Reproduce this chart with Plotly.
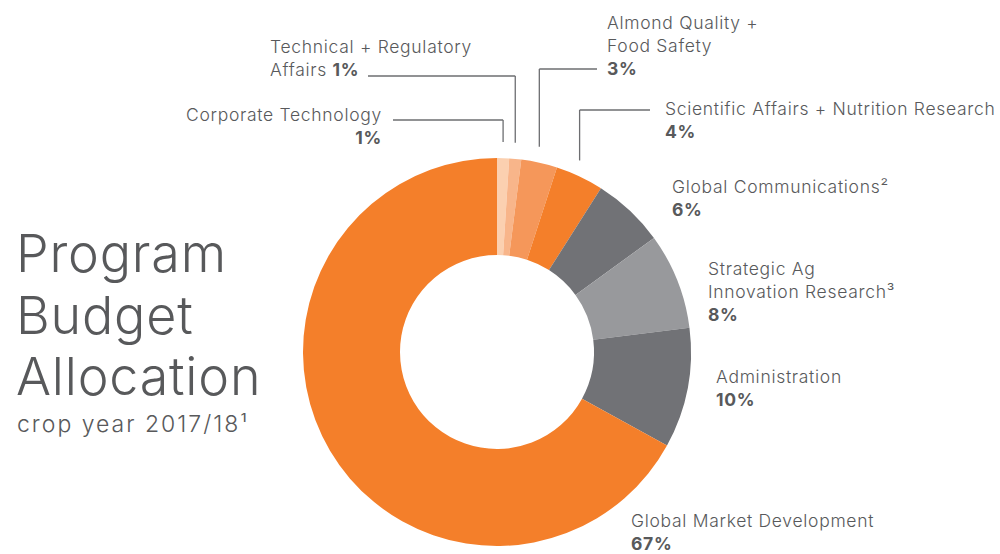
import math
import plotly.graph_objects as go

# --- Data ---
categories = [
    "Corporate Technology",
    "Technical + Regulatory Affairs",
    "Almond Quality + Food Safety",
    "Scientific Affairs + Nutrition Research",
    "Global Communications",
    "Strategic Ag Innovation Research",
    "Administration",
    "Global Market Development",
]
shares = [1, 1, 3, 4, 6, 8, 10, 67]
slice_colors = ["#FBD0B0", "#F8B58A", "#F5975A", "#F47F2A",
                "#717276", "#98999C", "#717276", "#F47F2A"]

# label text (html lines) and pixel anchor for each slice label
label_text = [
    "Corporate Technology<br><b>1%</b>",
    "Technical + Regulatory<br>Affairs <b>1%</b>",
    "Almond Quality +<br>Food Safety<br><b>3%</b>",
    "Scientific Affairs + Nutrition Research<br><b>4%</b>",
    "Global Communications\u00b2<br><b>6%</b>",
    "Strategic Ag<br>Innovation Research\u00b3<br><b>8%</b>",
    "Administration<br><b>10%</b>",
    "Global Market Development<br><b>67%</b>",
]
label_pos = [(384, 126, "right"), (268, 58, "left"), (605, 45, "left"),
             (663, 120, "left"), (670, 198, "left"), (706, 291, "left"),
             (714, 388, "left"), (629, 532, "left")]

TEXT = "#58595B"
FONT = "Inter"
W, H = 1000, 554
CX, CY, R = 497, 352, 194


def px(x):
    return x / W


def py(y):
    return 1 - y / H


def spaced(s, ls):
    lines = s.split("<br>")
    return "<br>".join(f"<span style='letter-spacing:{ls}px'>{ln}</span>" for ln in lines)


fig = go.Figure(go.Pie(
    labels=categories, values=shares, sort=False, direction="clockwise",
    rotation=0, hole=0.5, textinfo="none", hoverinfo="label+percent",
    marker=dict(colors=slice_colors, line=dict(width=0)),
    domain=dict(x=[px(CX - R), px(CX + R)], y=[py(CY + R), py(CY - R)]),
    showlegend=False,
))

for txt, (x, y, al) in zip(label_text, label_pos):
    fig.add_annotation(text=spaced(txt, 0.7), x=px(x), y=py(y), xref="paper", yref="paper",
                       xanchor=al, yanchor="middle", align=al, showarrow=False,
                       font=dict(family=FONT, size=17.5, color=TEXT, weight=300))

# connector lines for the four small slices, dropped from slice mid-angles
total = sum(shares)
cum = 0
line_tops = [120, 76, 69, 110]
line_ends = [393, 368, 597, 650]
for i in range(4):
    mid = (cum + shares[i] / 2) / total * 2 * math.pi
    cum += shares[i]
    lx = CX + R * math.sin(mid)
    ly = CY - R * math.cos(mid) - 16
    top = line_tops[i]
    fig.add_shape(type="line", xref="paper", yref="paper",
                  x0=px(lx), y0=py(ly), x1=px(lx), y1=py(top),
                  line=dict(color="#6D6E71", width=1.3))
    fig.add_shape(type="line", xref="paper", yref="paper",
                  x0=px(lx), y0=py(top), x1=px(line_ends[i]), y1=py(top),
                  line=dict(color="#6D6E71", width=1.3))

# title block
for txt, y in [("Program", 253), ("Budget", 315), ("Allocation", 376)]:
    fig.add_annotation(text=spaced(txt, 0.8), x=px(14), y=py(y), xref="paper", yref="paper",
                       xanchor="left", yanchor="middle", showarrow=False,
                       font=dict(family=FONT, size=52, color=TEXT, weight=300))
fig.add_annotation(text=spaced("crop year 2017/18\u00b9", 2.0), x=px(15), y=py(424),
                   xref="paper", yref="paper", xanchor="left", yanchor="middle",
                   showarrow=False, font=dict(family=FONT, size=23, color=TEXT, weight=300))

fig.update_layout(width=W, height=H, margin=dict(l=0, r=0, t=0, b=0),
                  paper_bgcolor="white", plot_bgcolor="white")

fig.write_html("out.html", config={"displayModeBar": False},
               post_script="document.body.style.margin='0';")
